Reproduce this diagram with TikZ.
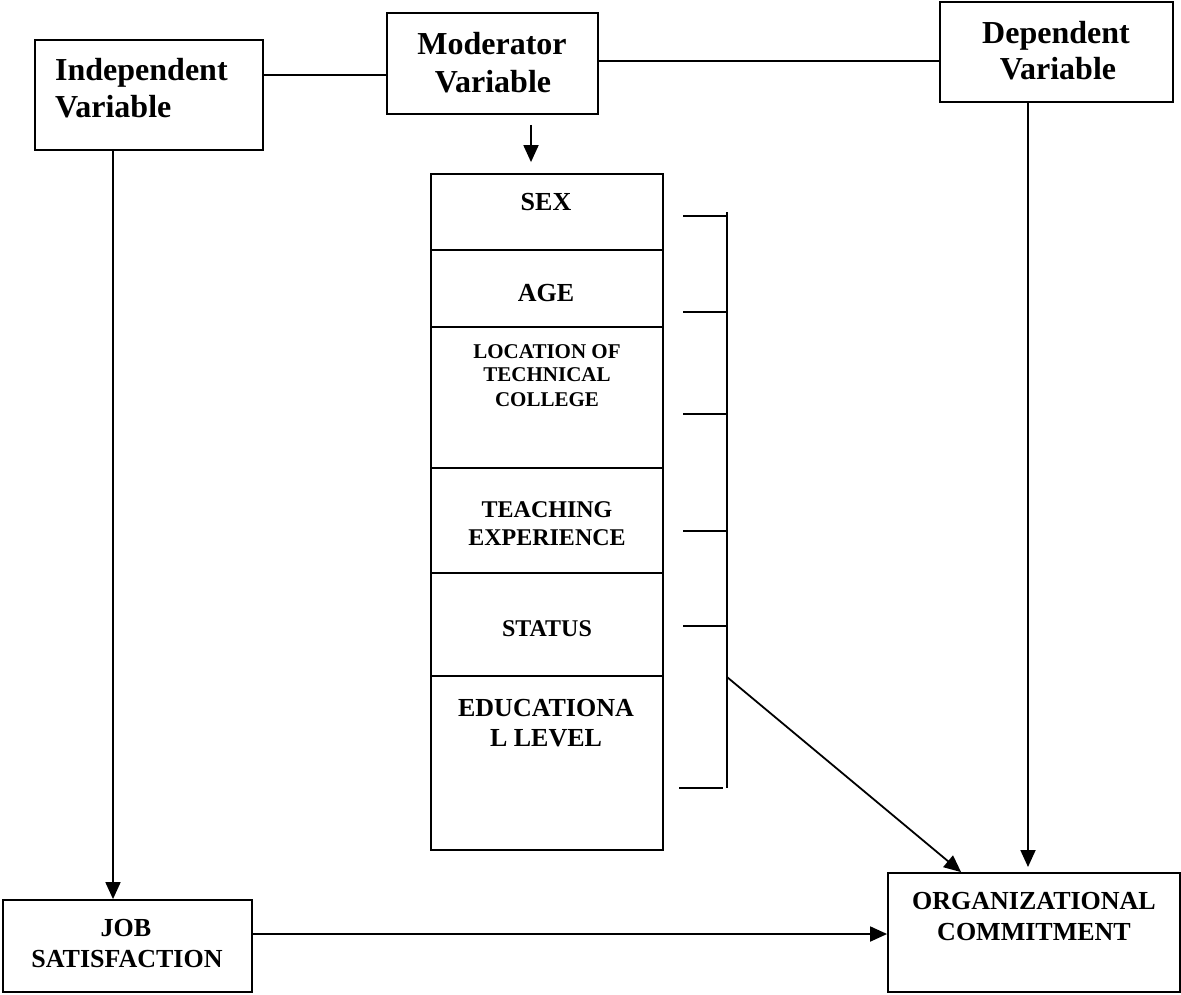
\documentclass[tikz,border=0pt]{standalone}
\usepackage{fontspec}
\setmainfont{Liberation Serif}
\usetikzlibrary{arrows.meta}

\tikzset{
  box/.style={draw, line width=1.8pt, rectangle, inner sep=0pt},
  big/.style={inner sep=0pt, font=\fontsize{32}{37}\selectfont\bfseries},
  small/.style={inner sep=0pt, font=\fontsize{26}{30}\selectfont\bfseries},
  arr/.style={line width=1.8pt, -{Triangle[length=17pt, width=15pt]}}
}

\begin{document}
\begin{tikzpicture}[x=1pt, y=-1pt]
    \useasboundingbox (0,0) rectangle (1181,994);

    % Box for Independent Variable
    \node[box, minimum width=228pt, minimum height=110pt] (indep) at (149,95) {};
    \node[big, anchor=base west] (indepA) at (55,80) {Independent};
    \node[big, anchor=base west] (indepB) at (55,117) {Variable};

    % Box for Moderator Variable
    \node[box, minimum width=211pt, minimum height=101pt] (mod) at (492.5,63.5) {};
    \node[big, anchor=base] (modA) at (492,54) {Moderator};
    \node[big, anchor=base] (modB) at (493,92) {Variable};

    % Box for Dependent Variable
    \node[box, minimum width=233pt, minimum height=100pt] (dep) at (1056.5,52) {};
    \node[big, anchor=base] (depA) at (1056,43) {Dependent};
    \node[big, anchor=base] (depB) at (1058,79) {Variable};

    % Column of moderators
    \node[box, minimum width=232pt, minimum height=76pt] (sex) at (547,212) {};
    \node[small, anchor=base] (sexT) at (546,210) {SEX};
    \node[box, minimum width=232pt, minimum height=77pt] (age) at (547,288.5) {};
    \node[small, anchor=base] (ageT) at (546,301.7) {AGE};
    \node[box, minimum width=232pt, minimum height=141pt] (loc) at (547,397.5) {};
    \node[small, font=\fontsize{21}{24}\selectfont\bfseries, anchor=base] (locA) at (547,358.3) {LOCATION OF};
    \node[small, font=\fontsize{21}{24}\selectfont\bfseries, anchor=base] (locB) at (547,381.7) {TECHNICAL};
    \node[small, font=\fontsize{21}{24}\selectfont\bfseries, anchor=base] (locC) at (547,406.7) {COLLEGE};
    \node[box, minimum width=232pt, minimum height=105pt] (teach) at (547,520.5) {};
    \node[small, font=\fontsize{24}{28}\selectfont\bfseries, anchor=base] (teachA) at (547,517) {TEACHING};
    \node[small, font=\fontsize{24}{28}\selectfont\bfseries, anchor=base] (teachB) at (547,545) {EXPERIENCE};
    \node[box, minimum width=232pt, minimum height=103pt] (stat) at (547,624.5) {};
    \node[small, font=\fontsize{24}{28}\selectfont\bfseries, anchor=base] (statT) at (547,636.7) {STATUS};
    \node[box, minimum width=232pt, minimum height=174pt] (edu) at (547,763) {};
    \node[small, anchor=base] (eduA) at (546,716) {EDUCATIONA};
    \node[small, anchor=base] (eduB) at (546,746) {L LEVEL};

    % Box for Job Satisfaction
    \node[box, minimum width=249pt, minimum height=92pt] (job) at (127.5,946) {};
    \node[small, anchor=base] (jobA) at (126,936) {JOB};
    \node[small, anchor=base] (jobB) at (127,967.3) {SATISFACTION};

    % Box for Organizational Commitment
    \node[box, minimum width=292pt, minimum height=119pt] (org) at (1034,932.5) {};
    \node[small, anchor=base] (orgA) at (1034,909.3) {ORGANIZATIONAL};
    \node[small, anchor=base] (orgB) at (1034,940) {COMMITMENT};

    % Bracket
    \coordinate (brk) at (727,677);
    \coordinate (depin) at (1028,867);
    \draw[line width=1.8pt] (727,212) -- (727,788);
    \foreach \ty in {216,312,414,531,626}
        \draw[line width=1.6pt] (683,\ty) -- (727,\ty);
    \draw[line width=1.6pt] (679,788) -- (723,788);

    % Lines and arrows
    \draw[line width=1.8pt] ([yshift=20pt]indep.east) -- ([yshift=-11.5pt]mod.west);
    \draw[line width=1.8pt] ([yshift=2.5pt]mod.east) -- ([yshift=-9pt]dep.west);
    \draw[arr] ([xshift=38.5pt,yshift=-10pt]mod.south) -- ([xshift=-16pt,yshift=11pt]sex.north);
    \draw[arr] ([xshift=-36pt]indep.south) -- ([xshift=-14.5pt]job.north);
    \draw[arr] ([xshift=-28.5pt]dep.south) -- (depin);
    \draw[arr] ([yshift=12pt]job.east) -- ([yshift=-1.5pt]org.west);
    \draw[arr] (brk) -- ([xshift=74pt]org.north west);
\end{tikzpicture}
\end{document}
